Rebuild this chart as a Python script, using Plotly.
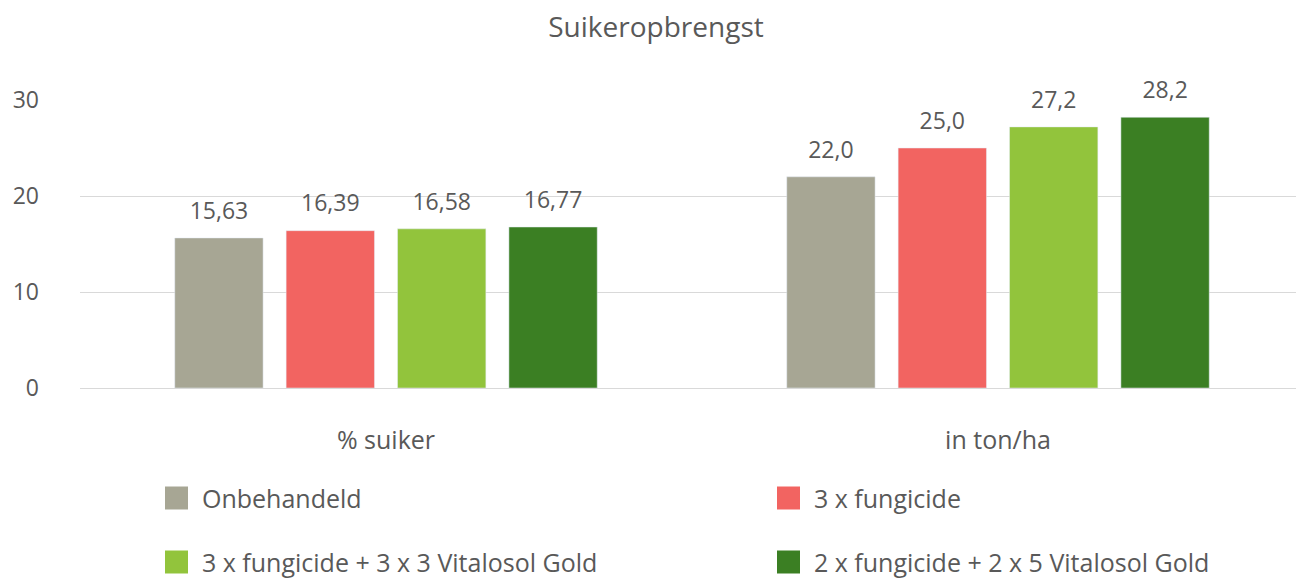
import plotly.graph_objects as go

categories = ["% suiker", "in ton/ha"]
decimals = [2, 1]
series_names = [
    "Onbehandeld",
    "3 x fungicide",
    "3 x fungicide + 3 x 3 Vitalosol Gold",
    "2 x fungicide + 2 x 5 Vitalosol Gold",
]
series_values = [
    [15.63, 22.0],
    [16.39, 25.0],
    [16.58, 27.2],
    [16.77, 28.2],
]
colors = ["#A7A694", "#F26461", "#92C43C", "#3B7F23"]
y_ticks = [0, 10, 20, 30]

FONT = "Open Sans"
TXT = "#595959"
BARGAP = 0.272

fig = go.Figure()
for i, (name, vals, col) in enumerate(zip(series_names, series_values, colors)):
    fig.add_trace(go.Bar(
        x=categories, y=vals, name=name, marker_color=col,
        offsetgroup=str(i), showlegend=False,
    ))
for i, (name, vals) in enumerate(zip(series_names, series_values)):
    labels = [f"{v:.{d}f}".replace(".", ",") for v, d in zip(vals, decimals)]
    fig.add_trace(go.Scatter(
        x=categories, y=vals, mode="markers+text", text=labels,
        textposition="top center", offsetgroup=str(i),
        marker=dict(size=20, opacity=0), cliponaxis=False,
        textfont=dict(family=FONT, size=23, color=TXT),
        showlegend=False, hoverinfo="skip",
    ))

# manual legend (2 columns x 2 rows); page has an 8px body margin
OFF = 8
l, r, t, b = 72, 0, 92, 190
W = 1296 - l - r
H = 570 - t - b
leg_pos = [(165, 498), (777, 498), (165, 562), (777, 562)]
shapes = []
annotations = []
for (px, py), name, col in zip(leg_pos, series_names, colors):
    px -= OFF + l
    py -= OFF + t
    shapes.append(dict(type="rect", xref="paper", yref="paper",
                       x0=px / W, x1=(px + 23) / W,
                       y0=1 - (py + 11.5) / H, y1=1 - (py - 11.5) / H,
                       fillcolor=col, line=dict(width=0)))
    annotations.append(dict(xref="paper", yref="paper", x=(px + 35) / W,
                            y=1 - py / H, text=name, showarrow=False,
                            xanchor="left", yanchor="middle",
                            font=dict(family=FONT, size=25, color=TXT)))

fig.update_layout(
    width=1296, height=570,
    margin=dict(l=l, r=r, t=t, b=b),
    paper_bgcolor="white", plot_bgcolor="white",
    title=dict(text="Suikeropbrengst", x=0.5, xanchor="center", y=1 - 19 / 570,
               yanchor="middle", font=dict(family=FONT, size=28, color=TXT)),
    barmode="group", bargap=BARGAP, bargroupgap=0.207,
    scattermode="group", scattergap=BARGAP,
    shapes=shapes, annotations=annotations,
    font=dict(family=FONT, color=TXT),
)
fig.update_xaxes(showgrid=False, showline=False, ticks="",
                 tickfont=dict(family=FONT, size=25, color=TXT),
                 ticklabelstandoff=35)
fig.update_yaxes(range=[0, 30], tickvals=y_ticks, showgrid=True, gridcolor="#D9D9D9",
                 gridwidth=1, zeroline=True, zerolinecolor="#D9D9D9", zerolinewidth=1,
                 showline=False, tickfont=dict(family=FONT, size=23, color=TXT),
                 ticklabelstandoff=40)

fig.write_html("out.html")
